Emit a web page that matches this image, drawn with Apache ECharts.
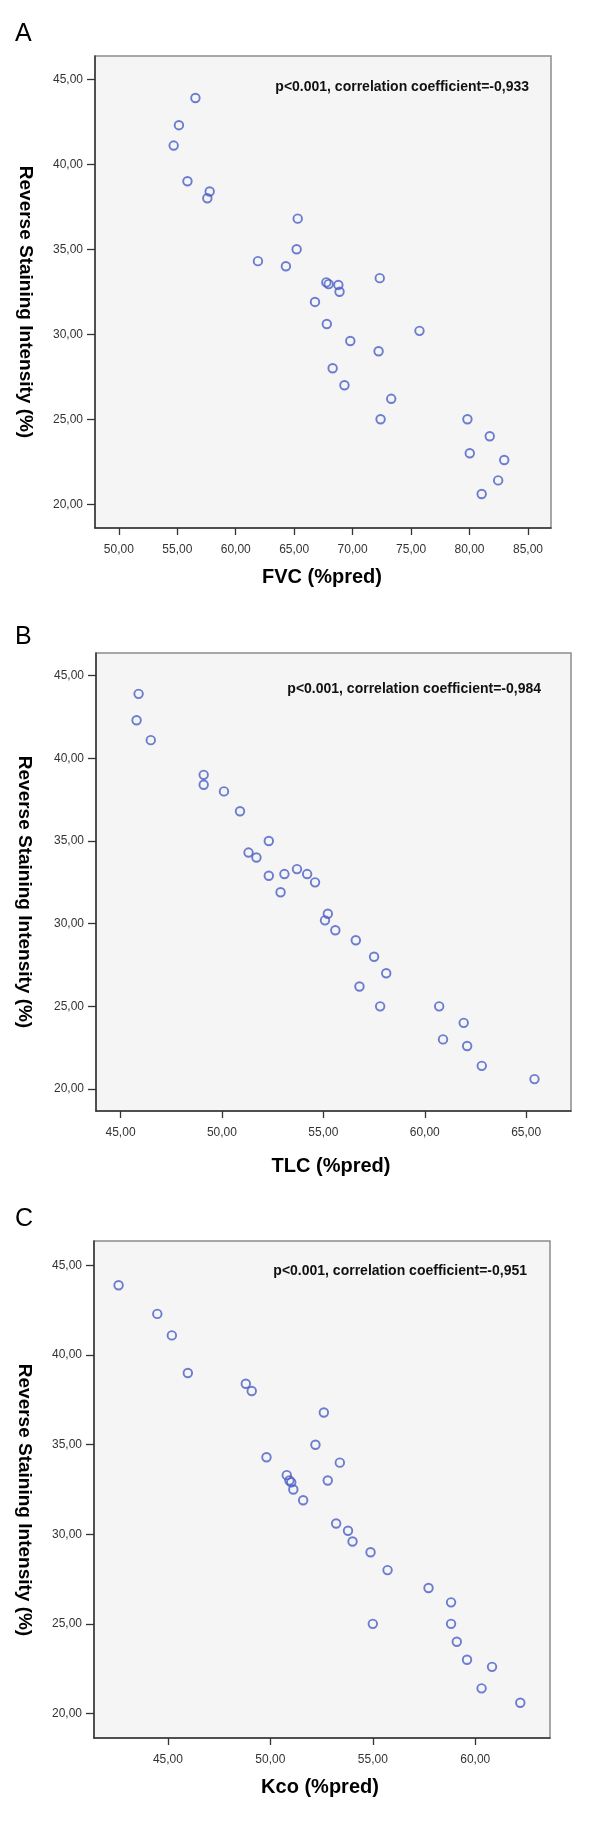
<!DOCTYPE html>
<html>
<head>
<meta charset="utf-8">
<script src="https://cdn.jsdelivr.net/npm/echarts@6/dist/echarts.min.js"></script>
<style>
html,body{margin:0;padding:0;background:#fff;}
#c{width:600px;height:1825px;}
</style>
</head>
<body>
<div id="c"></div>
<script>
// Panel A: FVC (%pred) vs Reverse Staining Intensity (%)
const fvcA = [56.55, 55.14, 54.69, 55.87, 57.77, 57.57, 65.30, 65.21, 61.90, 64.29, 67.75, 67.95, 68.78, 68.88, 72.32, 66.78, 67.79, 75.72, 69.80, 72.22, 68.29, 69.30, 73.30, 72.39, 79.82, 81.73, 80.02, 82.97, 82.45, 81.04];
const rsiA = [43.9, 42.3, 41.1, 39.0, 38.4, 38.0, 36.8, 35.0, 34.3, 34.0, 33.05, 32.95, 32.9, 32.5, 33.3, 31.9, 30.6, 30.2, 29.6, 29.0, 28.0, 27.0, 26.2, 25.0, 25.0, 24.0, 23.0, 22.6, 21.4, 20.6];
// Panel B: TLC (%pred)
const tlcB = [45.89, 45.79, 46.49, 49.10, 49.10, 50.10, 50.89, 52.31, 51.31, 51.70, 52.31, 53.08, 53.70, 54.20, 54.59, 52.89, 55.22, 55.08, 55.59, 56.60, 57.50, 58.10, 56.78, 57.80, 60.71, 61.92, 60.90, 62.09, 62.81, 65.41];
const rsiB = [43.9, 42.3, 41.1, 39.0, 38.4, 38.0, 36.8, 35.0, 34.3, 34.0, 32.9, 33.0, 33.3, 33.0, 32.5, 31.9, 30.6, 30.2, 29.6, 29.0, 28.0, 27.0, 26.2, 25.0, 25.0, 24.0, 23.0, 22.6, 21.4, 20.6];
// Panel C: Kco (%pred)
const kcoC = [42.59, 44.48, 45.19, 45.97, 48.80, 49.09, 52.61, 52.20, 49.81, 53.39, 50.80, 50.93, 51.02, 51.12, 52.80, 51.60, 53.21, 53.79, 54.01, 54.89, 55.72, 57.72, 58.82, 55.00, 58.82, 59.10, 59.60, 60.82, 60.31, 62.20];
const rsiC = [43.9, 42.3, 41.1, 39.0, 38.4, 38.0, 36.8, 35.0, 34.3, 34.0, 33.3, 33.0, 32.9, 32.5, 33.0, 31.9, 30.6, 30.2, 29.6, 29.0, 28.0, 27.0, 26.2, 25.0, 25.0, 24.0, 23.0, 22.6, 21.4, 20.6];

// Tick values
const yTicks = [20, 25, 30, 35, 40, 45];
const xTicksA = [50, 55, 60, 65, 70, 75, 80, 85];
const xTicksB = [45, 50, 55, 60, 65];
const xTicksC = [45, 50, 55, 60];

// Texts
const panelLetters = ['A', 'B', 'C'];
const xTitles = ['FVC (%pred)', 'TLC (%pred)', 'Kco (%pred)'];
const yTitle = 'Reverse Staining Intensity (%)';
const annotations = ['p<0.001, correlation coefficient=-0,933', 'p<0.001, correlation coefficient=-0,984', 'p<0.001, correlation coefficient=-0,951'];

const FONT = '"Liberation Sans", Arial, sans-serif';
const fmt = v => v.toFixed(2).replace('.', ',');

const grids = [
  {left: 95, top: 56, width: 456, height: 472},
  {left: 96, top: 653, width: 475, height: 458},
  {left: 94, top: 1241, width: 456, height: 497}
];
const xRanges = [[47.96, 86.97], [43.79, 67.21], [41.39, 63.65]];
const yRanges = [[18.60, 46.37], [18.67, 46.37], [18.63, 46.37]];
const xTickSets = [xTicksA, xTicksB, xTicksC];
const pairs = [[fvcA, rsiA], [tlcB, rsiB], [kcoC, rsiC]];

const chart = echarts.init(document.getElementById('c'), null, {renderer: 'canvas'});

const option = {
  animation: false,
  backgroundColor: '#ffffff',
  grid: grids.map(g => Object.assign({
    show: true, backgroundColor: '#f5f5f5', borderColor: '#8c8c8c', borderWidth: 1.5, containLabel: false
  }, g)),
  xAxis: grids.map((g, i) => ({
    type: 'value', gridIndex: i, min: xRanges[i][0], max: xRanges[i][1],
    axisLine: {show: true, onZero: false, lineStyle: {color: '#333', width: 1.5}},
    axisTick: {show: true, customValues: xTickSets[i], length: 7, lineStyle: {color: '#333', width: 1.3}},
    axisLabel: {show: true, customValues: xTickSets[i], formatter: fmt, margin: 16, color: '#333', fontSize: 12, fontFamily: FONT},
    splitLine: {show: false}
  })),
  yAxis: grids.map((g, i) => ({
    type: 'value', gridIndex: i, min: yRanges[i][0], max: yRanges[i][1],
    axisLine: {show: true, onZero: false, lineStyle: {color: '#333', width: 1.5}},
    axisTick: {show: true, customValues: yTicks, length: 8, lineStyle: {color: '#333', width: 1.3}},
    axisLabel: {show: true, customValues: yTicks, formatter: fmt, margin: 12, color: '#333', fontSize: 12, fontFamily: FONT},
    splitLine: {show: false}
  })),
  series: pairs.map((p, i) => ({
    type: 'scatter', xAxisIndex: i, yAxisIndex: i,
    symbol: 'circle', symbolSize: 8.5,
    itemStyle: {color: 'rgba(0,0,0,0)', borderColor: '#4a5ec6', borderWidth: 1.9},
    data: p[0].map((x, k) => [x, p[1][k]])
  })),
  graphic: []
};

const letterPos = [[15, 34], [15, 637], [15, 1219]];
const annPos = [[529, 87], [541, 689], [527, 1271]];
const xTitlePos = [[322, 577], [331, 1166], [320, 1787]];
const yTitlePos = [[25, 302], [24, 892], [24, 1500]];

for (let i = 0; i < 3; i++) {
  option.graphic.push({
    type: 'text', x: letterPos[i][0], y: letterPos[i][1],
    style: {text: panelLetters[i], fill: '#000', font: '25px ' + FONT, textAlign: 'left', textVerticalAlign: 'middle'}
  });
  option.graphic.push({
    type: 'text', x: annPos[i][0], y: annPos[i][1],
    style: {text: annotations[i], fill: '#111', font: 'bold 14px ' + FONT, textAlign: 'right', textVerticalAlign: 'middle'}
  });
  option.graphic.push({
    type: 'text', x: xTitlePos[i][0], y: xTitlePos[i][1],
    style: {text: xTitles[i], fill: '#000', font: 'bold 20px ' + FONT, textAlign: 'center', textVerticalAlign: 'middle'}
  });
  option.graphic.push({
    type: 'text', x: yTitlePos[i][0], y: yTitlePos[i][1], rotation: -Math.PI / 2,
    style: {text: yTitle, fill: '#000', font: 'bold 19px ' + FONT, textAlign: 'center', textVerticalAlign: 'middle'}
  });
}

chart.setOption(option);
</script>
</body>
</html>
